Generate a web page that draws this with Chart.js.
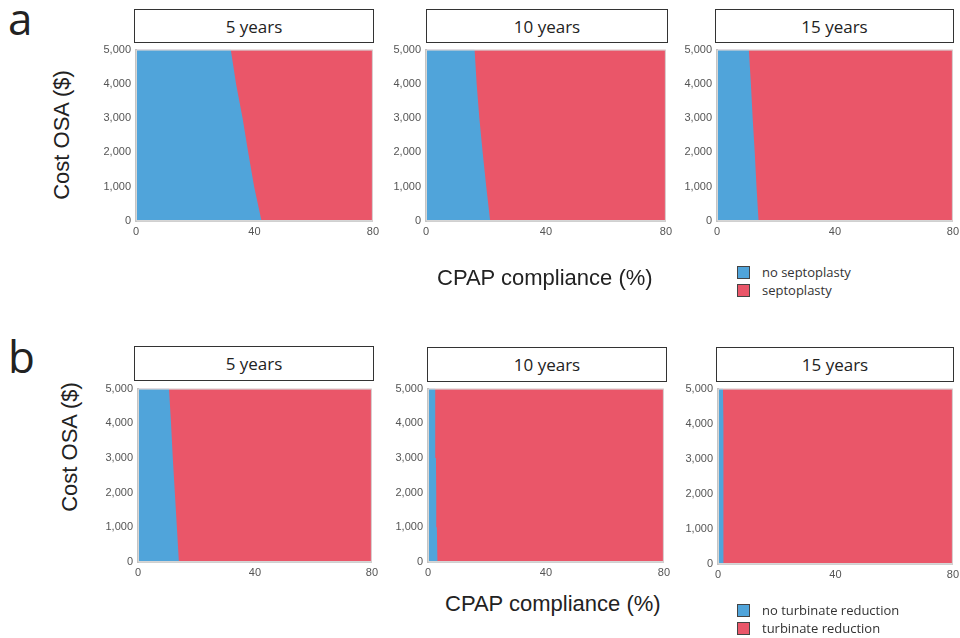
<!DOCTYPE html>
<html>
<head>
<meta charset="utf-8">
<script src="https://cdn.jsdelivr.net/npm/chart.js@4/dist/chart.umd.min.js"></script>
<style>
  body { margin: 0; background: #fff; }
  #page { position: relative; width: 960px; height: 638px; overflow: hidden; font-family: "Liberation Sans", Arial, sans-serif; }
  canvas { position: absolute; }
  .hdr { position: absolute; box-sizing: border-box; border: 1.5px solid #333; background: #fff;
         font-family: "Open Sans", sans-serif; font-size: 17px; color: #222;
         display: flex; align-items: center; justify-content: center; }
  .letter { position: absolute; font-family: "Open Sans", sans-serif; font-size: 44px; color: #222; line-height: 1; }
  .ytitle { position: absolute; font-size: 22px; color: #222; transform: translate(-50%, -50%) rotate(-90deg); white-space: nowrap; }
  .xtitle { position: absolute; font-size: 22px; color: #222; white-space: nowrap; transform: translateY(-50%); }
  .leg { position: absolute; font-family: "Open Sans", sans-serif; font-size: 13px; color: #333; white-space: nowrap; }
  .leg div { height: 18px; display: flex; align-items: center; }
  .leg span.sw { display: inline-block; width: 11px; height: 11px; border: 1px solid #444; margin-right: 12px; }
</style>
</head>
<body>
<div id="page"></div>
<script>
// cost of OSA treatment (y axis), $
const costLevels = [0, 1000, 2000, 3000, 4000, 5000];
// CPAP compliance (%) at which the preferred strategy switches, per cost level
const septo5  = [42.4, 39.9, 37.9, 36.0, 33.8, 32.0];
const septo10 = [21.4, 20.1, 18.9, 17.8, 16.9, 16.2];
const septo15 = [14.1, 13.4, 12.8, 12.1, 11.5, 10.8];
const turb5   = [14.0, 13.3, 12.6, 11.9, 11.3, 10.6];
const turb10  = [3.2, 3.0, 2.8, 2.7, 2.5, 2.4];
const turb15  = [2.0, 1.9, 1.9, 1.8, 1.8, 1.7];

const yearLabels = ['5 years', '10 years', '15 years'];
const xTicks = [0, 40, 80];
const complianceMax = 80;
const costMax = 5000;

const BLUE = '#50a4da';
const RED = '#ea5669';

const page = document.getElementById('page');

function addDiv(cls, html, style) {
  const d = document.createElement('div');
  d.className = cls;
  d.innerHTML = html;
  Object.assign(d.style, style);
  page.appendChild(d);
  return d;
}

const frame = {
  id: 'frame',
  afterDraw(chart) {
    const a = chart.chartArea, ctx = chart.ctx;
    ctx.save();
    ctx.strokeStyle = '#d6d6d6';
    ctx.lineWidth = 1;
    ctx.strokeRect(a.left + 0.5, a.top + 0.5, a.right - a.left - 1, a.bottom - a.top - 1);
    ctx.restore();
  }
};

function panel(thresholds, box) {
  const yW = 45, padT = 10, padR = 10, xH = 20;
  const w = box.right - box.left, h = box.bottom - box.top;
  const cv = document.createElement('canvas');
  cv.width = w + yW + padR;
  cv.height = h + padT + xH;
  cv.style.left = (box.left - yW) + 'px';
  cv.style.top = (box.top - padT) + 'px';
  page.appendChild(cv);

  new Chart(cv, {
    type: 'line',
    data: {
      datasets: [
        {
          label: 'no',
          data: costLevels.map((c, i) => ({ x: thresholds[i], y: c })),
          backgroundColor: BLUE, borderWidth: 0, pointRadius: 0, fill: 'origin'
        },
        {
          label: 'yes',
          data: costLevels.map(c => ({ x: complianceMax, y: c })),
          backgroundColor: RED, borderWidth: 0, pointRadius: 0, fill: 'origin'
        }
      ]
    },
    options: {
      responsive: false,
      animation: false,
      indexAxis: 'y',
      layout: { padding: { top: padT, right: padR, left: 0, bottom: 0 } },
      plugins: { legend: { display: false }, tooltip: { enabled: false } },
      scales: {
        x: {
          type: 'linear', min: 0, max: complianceMax,
          afterBuildTicks: s => { s.ticks = xTicks.map(v => ({ value: v })); },
          afterFit: s => { s.height = xH; },
          grid: { display: false, drawTicks: false },
          border: { display: true, color: '#d0d0d0', width: 1 },
          ticks: { color: '#555', font: { family: '"Liberation Sans", Arial', size: 11 }, padding: 4, maxRotation: 0 }
        },
        y: {
          type: 'linear', min: 0, max: costMax,
          ticks: { stepSize: 1000, color: '#555', font: { family: '"Liberation Sans", Arial', size: 11 }, padding: 5 },
          afterFit: s => { s.width = yW; },
          grid: { display: false, drawTicks: false },
          border: { display: true, color: '#c4c4c4', width: 2 }
        }
      }
    },
    plugins: [frame]
  });
}

function header(text, box) {
  addDiv('hdr', text, {
    left: box.left + 'px', top: box.top + 'px',
    width: (box.right - box.left) + 'px', height: (box.bottom - box.top) + 'px'
  });
}

// row a: septoplasty
const rowA = [septo5, septo10, septo15];
const plotsA = [
  { left: 136, right: 373, top: 48, bottom: 221 },
  { left: 426, right: 666, top: 48, bottom: 221 },
  { left: 717, right: 953, top: 48, bottom: 221 }
];
const hdrsA = [
  { left: 134, right: 374, top: 9, bottom: 43 },
  { left: 426, right: 668, top: 9, bottom: 43 },
  { left: 715, right: 954, top: 9, bottom: 43 }
];
// row b: turbinate reduction
const rowB = [turb5, turb10, turb15];
const plotsB = [
  { left: 138, right: 372, top: 387, bottom: 562 },
  { left: 428, right: 664, top: 387, bottom: 562 },
  { left: 718, right: 953, top: 387, bottom: 564 }
];
const hdrsB = [
  { left: 134, right: 374, top: 346, bottom: 381 },
  { left: 427, right: 667, top: 347, bottom: 382 },
  { left: 716, right: 954, top: 347, bottom: 382 }
];

rowA.forEach((t, i) => { panel(t, plotsA[i]); header(yearLabels[i], hdrsA[i]); });
rowB.forEach((t, i) => { panel(t, plotsB[i]); header(yearLabels[i], hdrsB[i]); });

addDiv('letter', 'a', { left: '8px', top: '-4px' });
addDiv('letter', 'b', { left: '8px', top: '334px' });

addDiv('ytitle', 'Cost OSA ($)', { left: '62px', top: '135px' });
addDiv('ytitle', 'Cost OSA ($)', { left: '70px', top: '447px' });

addDiv('xtitle', 'CPAP compliance (%)', { left: '437px', top: '278px' });
addDiv('xtitle', 'CPAP compliance (%)', { left: '445px', top: '604px' });

addDiv('leg',
  '<div><span class="sw" style="background:' + BLUE + '"></span>no septoplasty</div>' +
  '<div><span class="sw" style="background:' + RED + '"></span>septoplasty</div>',
  { left: '737px', top: '263px' });
addDiv('leg',
  '<div><span class="sw" style="background:' + BLUE + '"></span>no turbinate reduction</div>' +
  '<div><span class="sw" style="background:' + RED + '"></span>turbinate reduction</div>',
  { left: '737px', top: '601px' });
</script>
</body>
</html>
